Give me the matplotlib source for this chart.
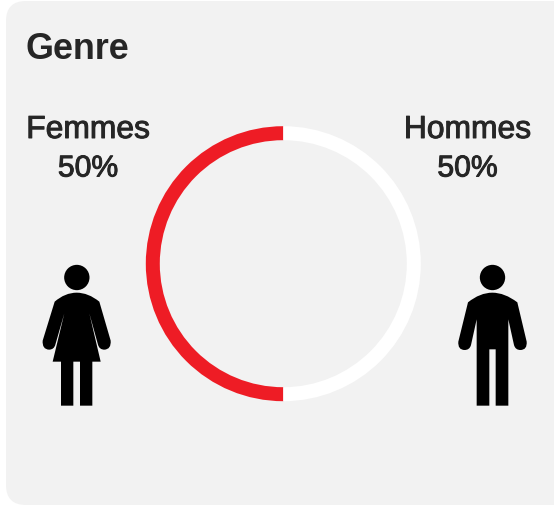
import matplotlib
matplotlib.use("Agg")
import matplotlib.pyplot as plt
import matplotlib.patheffects as pe
from matplotlib.path import Path
from matplotlib.patches import PathPatch, Circle, FancyBboxPatch

W, H = 554, 505
categories = ["Femmes", "Hommes"]
values = [50, 50]
title = "Genre"
ring_colors = ["#ee1c25", "#ffffff"]
TEXT = "#262626"
CARD = "#f2f2f2"

plt.rcParams['font.family'] = ['Liberation Sans', 'DejaVu Sans']
fig = plt.figure(figsize=(W/100, H/100), dpi=100, facecolor="white")

bg = fig.add_axes([0, 0, 1, 1])
bg.set_xlim(0, W); bg.set_ylim(H, 0); bg.axis("off")
bg.add_patch(FancyBboxPatch((6+20, 1+20), 548-40+20, 504-40, boxstyle="round,pad=20,rounding_size=20",
                            fc=CARD, ec="none"))

# donut
cx, cy, R = 283.3, 263.7, 137.5
pie_ax = fig.add_axes([(cx-R)/W, 1-(cy+R)/H, 2*R/W, 2*R/H])
pie_ax.pie(values, colors=ring_colors, startangle=90, counterclock=True, radius=1.0,
           wedgeprops=dict(width=14/R, linewidth=0))
pie_ax.set_xlim(-1, 1); pie_ax.set_ylim(-1, 1); pie_ax.set_aspect("equal")
pie_ax.patch.set_alpha(0)

bg.text(25.5, 49.5, title, fontsize=25.8, fontweight="bold", color=TEXT, ha="left", va="center")
lab_x = [88, 467.5]
for x, c, v in zip(lab_x, categories, values):
    t1 = bg.text(x, 130, c, fontsize=22.9, color=TEXT, ha="center", va="center")
    t2 = bg.text(x, 168.5, f"{v}%", fontsize=21.7, color=TEXT, ha="center", va="center")
    for t in (t1, t2):
        t.set_path_effects([pe.withStroke(linewidth=0.7, foreground=TEXT)])

M, L, C, Z = Path.MOVETO, Path.LINETO, Path.CURVE3, Path.CLOSEPOLY

def icon(ox, oy, steps, head):
    verts, codes = [], []
    for code, pts in steps:
        for p in pts:
            verts.append((ox + p[0]/3, oy + p[1]/3)); codes.append(code)
    verts.append(verts[0]); codes.append(Z)
    bg.add_patch(PathPatch(Path(verts, codes), fc="black", ec="none"))
    bg.add_patch(Circle((ox + head[0]/3, oy + head[1]/3), head[2]/3, fc="black", ec="none"))

woman = [
    (M, [(104, 155)]),
    (C, [(135, 128), (170, 128)]),
    (C, [(205, 128), (238, 155)]),
    (L, [(272, 272)]),
    (C, [(274, 298), (253, 299)]),
    (C, [(238, 299), (234, 284)]),
    (L, [(208, 190)]),
    (L, [(242, 335), (217, 335), (217, 467), (180, 467), (180, 335), (160, 335),
         (160, 467), (123, 467), (123, 335), (98, 335), (133, 190), (106, 284)]),
    (C, [(102, 299), (87, 299)]),
    (C, [(66, 298), (68, 272)]),
]
icon(20, 250, woman, (170.5, 82.5, 38))

man = [
    (M, [(84, 157)]),
    (C, [(120, 128), (157, 128)]),
    (C, [(194, 128), (232, 157)]),
    (L, [(260, 275)]),
    (C, [(262, 300), (241, 300)]),
    (C, [(226, 300), (222, 285)]),
    (L, [(205, 208)]),
    (L, [(205, 467), (167, 467), (167, 298), (148, 298), (148, 467), (110, 467), (110, 208), (93, 285)]),
    (C, [(89, 300), (74, 300)]),
    (C, [(53, 300), (55, 275)]),
]
icon(440, 250, man, (157.5, 82.5, 38))

fig.savefig("out.png", dpi=100, facecolor="white")
